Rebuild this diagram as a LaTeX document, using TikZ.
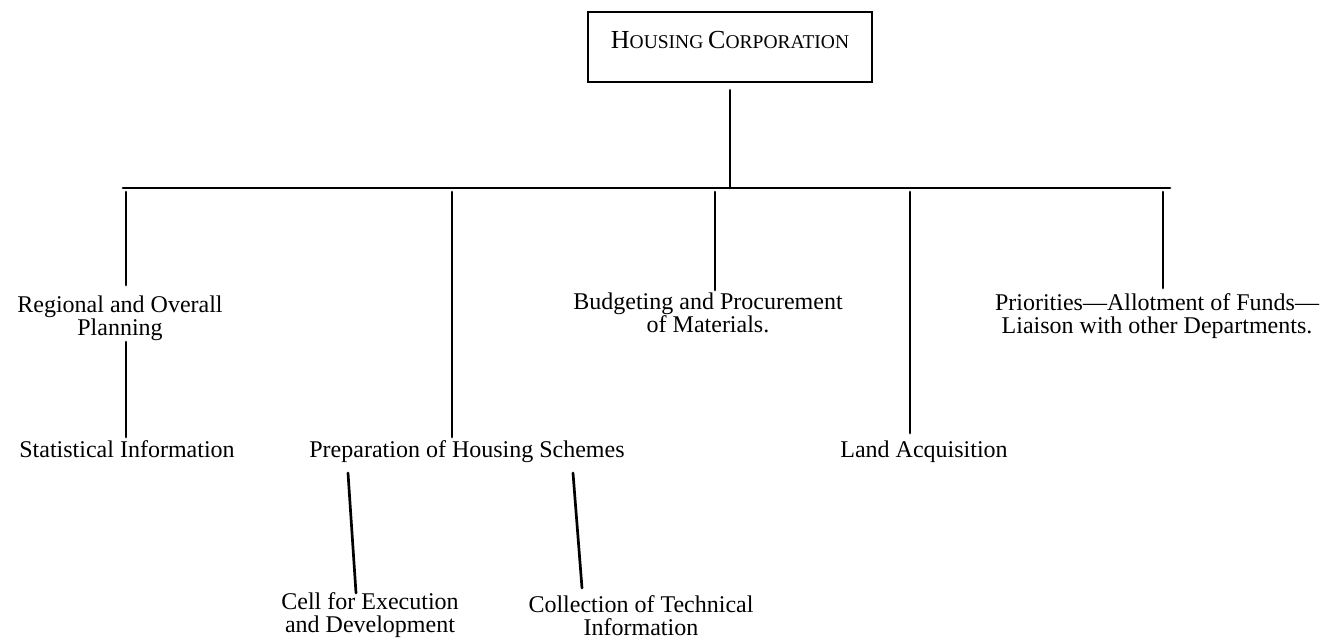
\documentclass[tikz,border=0pt]{standalone}
\usepackage{fontspec}
\setmainfont{Liberation Serif}
\newcommand{\twolines}[3][c]{\begin{tabular}[t]{@{}#1@{}}#2\\#3\end{tabular}}
\newcommand{\bigS}{\fontsize{26}{26}\selectfont}
\newcommand{\smallS}{\fontsize{19.5}{19.5}\selectfont}
\begin{document}
\begin{tikzpicture}[x=1pt,y=-1pt,
  conn/.style={line width=2.7pt, line cap=round},
  lbl/.style={inner sep=0pt, anchor=base, font=\fontsize{24}{22}\selectfont},
  titlebox/.style={draw, line width=2.5pt, minimum width=284pt, minimum height=70pt,
    inner sep=0pt, text height=17pt, text depth=14pt}]
\useasboundingbox (0,0) rectangle (1336,643);

% head
\node[titlebox] (hc) at (730,47) {\bigS H\smallS OUSING \bigS C\smallS ORPORATION};

% labels
\node[lbl] (reg)  at (120,312) {\twolines{Regional and Overall}{Planning}};
\node[lbl] (stat) at (127,457) {Statistical Information};
\node[lbl] (prep) at (467,457) {Preparation of Housing Schemes};
\node[lbl] (budg) at (708,309) {\twolines{Budgeting and Procurement}{of Materials.}};
\node[lbl] (land) at (924,457) {Land Acquisition};
\node[lbl] (prio) at (1157,310) {\twolines{Priorities---Allotment of Funds---}{Liaison with other Departments.}};
\node[lbl] (cell) at (370,609) {\twolines{Cell for Execution}{and Development}};
\node[lbl] (coll) at (641,612) {\twolines{Collection of Technical}{Information}};

% bus and junctions
\coordinate (busL) at (123,188);
\coordinate (busR) at (1170,188);
\coordinate (hub)  at (730,188);
\coordinate (j1) at (126,192);  \coordinate (e1) at (126,285);
\coordinate (j2) at (452,192);  \coordinate (e2) at (452,437);
\coordinate (j3) at (715,192);  \coordinate (e3) at (715,290);
\coordinate (j4) at (910,192);  \coordinate (e4) at (910,433);
\coordinate (j5) at (1163,192); \coordinate (e5) at (1163,288);
\coordinate (s1) at (126,342);  \coordinate (t1) at (126,437);
\coordinate (s2) at (348,473);  \coordinate (t2) at (356,593);
\coordinate (s3) at (573,473);  \coordinate (t3) at (582,588);

% connectors
\draw[conn] ([yshift=-7pt]hc.south) -- (hub);
\draw[conn] (busL) -- (busR);
\draw[conn] (j1) -- (e1);
\draw[conn] (j2) -- (e2);
\draw[conn] (j3) -- (e3);
\draw[conn] (j4) -- (e4);
\draw[conn] (j5) -- (e5);
\draw[conn] (s1) -- (t1);
\draw[conn] (s2) -- (t2);
\draw[conn] (s3) -- (t3);
\end{tikzpicture}
\end{document}
